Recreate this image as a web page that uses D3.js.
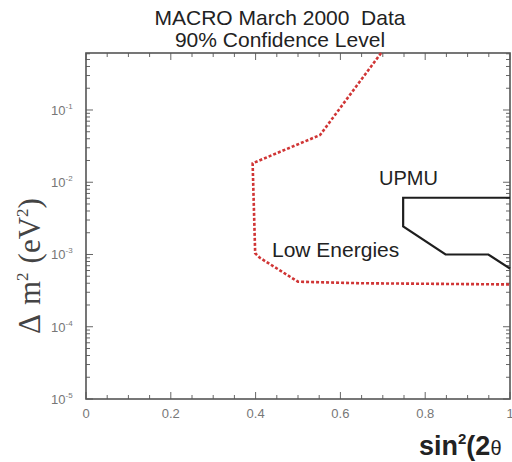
<!DOCTYPE html>
<html>
<head>
<meta charset="utf-8">
<script src="https://cdn.jsdelivr.net/npm/d3@7"></script>
<style>
  body { margin: 0; background: #fff; }
  svg { display: block; }
</style>
</head>
<body>
<div id="chart"></div>
<script>
// Chart data.
const xTicks = [0, 0.2, 0.4, 0.6, 0.8, 1];
const yExponents = [-1, -2, -3, -4, -5];
const titleLines = ['MACRO March 2000  Data', '90% Confidence Level'];

// Low Energies 90% CL contour (sin^2 2theta, delta m^2)
const lowX = [0.696, 0.552, 0.393, 0.399, 0.41, 0.50, 0.65, 1.0];
const lowY = [0.615, 0.045, 0.0183, 1.04e-3, 9.0e-4, 4.2e-4, 4.0e-4, 3.85e-4];

// UPMU 90% CL contour
const upX = [1.0, 0.748, 0.748, 0.848, 0.949, 1.0];
const upY = [6.1e-3, 6.1e-3, 2.45e-3, 1.0e-3, 1.0e-3, 6.4e-4];

const width = 512, height = 462;
const mLeft = 86, mRight = 510, mTop = 53, mBottom = 399;

const svg = d3.select('#chart').append('svg')
  .attr('width', width)
  .attr('height', height);

const x = d3.scaleLinear().domain([0, 1]).range([mLeft, mRight]);
const y = d3.scaleLog().domain([1e-5, 0.615]).range([mBottom, mTop]);

// Title (double space kept)
svg.selectAll('text.title')
  .data(titleLines)
  .enter()
  .append('text')
  .attr('class', 'title')
  .attr('x', 280)
  .attr('y', (d, i) => 25 + i * 21.5)
  .attr('text-anchor', 'middle')
  .style('white-space', 'pre')
  .style('font-family', 'Liberation Sans, Arial, sans-serif')
  .style('font-size', '21px')
  .style('fill', '#222')
  .text(d => d);

// Ticks, inward on all four sides
const ticks = svg.append('g').attr('stroke', '#666').attr('stroke-width', 1);
const xMinor = d3.range(0, 1.0001, 0.05);
xMinor.forEach(v => {
  const major = xTicks.some(t => Math.abs(t - v) < 1e-6);
  const len = major ? 7 : 4;
  ticks.append('line').attr('x1', x(v)).attr('x2', x(v)).attr('y1', mBottom).attr('y2', mBottom - len);
  ticks.append('line').attr('x1', x(v)).attr('x2', x(v)).attr('y1', mTop).attr('y2', mTop + len);
});
const yMinor = [];
for (let e = -5; e <= -1; e++) {
  for (let m = 1; m <= 9; m++) {
    const v = m * Math.pow(10, e);
    if (v <= 0.615) yMinor.push({ v: v, major: m === 1 });
  }
}
yMinor.forEach(d => {
  const len = d.major ? 7 : 4;
  ticks.append('line').attr('x1', mLeft).attr('x2', mLeft + len).attr('y1', y(d.v)).attr('y2', y(d.v));
  ticks.append('line').attr('x1', mRight).attr('x2', mRight - len).attr('y1', y(d.v)).attr('y2', y(d.v));
});

// Frame
svg.append('rect')
  .attr('x', mLeft).attr('y', mTop)
  .attr('width', mRight - mLeft).attr('height', mBottom - mTop)
  .attr('fill', 'none')
  .attr('stroke', '#555')
  .attr('stroke-width', 1.6);

// X tick labels
svg.selectAll('text.xt')
  .data(xTicks)
  .enter()
  .append('text')
  .attr('class', 'xt')
  .attr('x', d => x(d))
  .attr('y', 418)
  .attr('text-anchor', 'middle')
  .style('font-family', 'Liberation Sans, Arial, sans-serif')
  .style('font-size', '13px')
  .style('fill', '#777')
  .text(d => d3.format('')(d));

// Y tick labels (10^n)
const yl = svg.selectAll('text.yt')
  .data(yExponents)
  .enter()
  .append('text')
  .attr('class', 'yt')
  .attr('x', 51)
  .attr('y', d => y(Math.pow(10, d)) + 5)
  .style('font-family', 'Liberation Sans, Arial, sans-serif')
  .style('font-size', '13px')
  .style('fill', '#777');
yl.append('tspan').text('10');
yl.append('tspan').attr('dy', -6).style('font-size', '8px').text(d => '-' + Math.abs(d));

// Curves
const line = d3.line().x(d => x(d[0])).y(d => y(d[1]));

svg.append('path')
  .datum(d3.zip(lowX, lowY))
  .attr('d', line)
  .attr('fill', 'none')
  .attr('stroke', '#d03535')
  .attr('stroke-width', 2.6)
  .attr('stroke-dasharray', '3,2');

svg.append('path')
  .datum(d3.zip(upX, upY))
  .attr('d', line)
  .attr('fill', 'none')
  .attr('stroke', '#1e1e1e')
  .attr('stroke-width', 2.2);

// Curve labels
svg.append('text')
  .attr('x', 379).attr('y', 185)
  .style('font-family', 'Liberation Sans, Arial, sans-serif')
  .style('font-size', '20px')
  .style('fill', '#222')
  .text('UPMU');

svg.append('text')
  .attr('x', 272).attr('y', 257)
  .style('font-family', 'Liberation Sans, Arial, sans-serif')
  .style('font-size', '21px')
  .style('fill', '#222')
  .text('Low Energies');

// Axis titles
const xt = svg.append('text')
  .attr('x', 419).attr('y', 455)
  .style('font-family', 'Liberation Sans, Arial, sans-serif')
  .style('font-size', '27px')
  .style('font-weight', 'bold')
  .style('fill', '#222');
xt.append('tspan').text('sin');
xt.append('tspan').attr('dy', -11).style('font-size', '15px').text('2');
xt.append('tspan').attr('dy', 11).text('(2');
xt.append('tspan').style('font-size', '20px').style('font-weight', 'normal').text('\u03b8');

const yt = svg.append('text')
  .attr('transform', 'translate(40,266) rotate(-90)')
  .attr('text-anchor', 'middle')
  .style('font-family', 'Liberation Serif, Times New Roman, serif')
  .style('font-size', '31px')
  .style('fill', '#444');
yt.append('tspan').text('\u0394');
yt.append('tspan').attr('dx', 9).text('m');
yt.append('tspan').attr('dy', -12).style('font-size', '17px').text('2');
yt.append('tspan').attr('dy', 12).attr('dx', 9).text('(eV');
yt.append('tspan').attr('dy', -12).style('font-size', '17px').text('2');
yt.append('tspan').attr('dy', 12).text(')');
</script>
</body>
</html>
